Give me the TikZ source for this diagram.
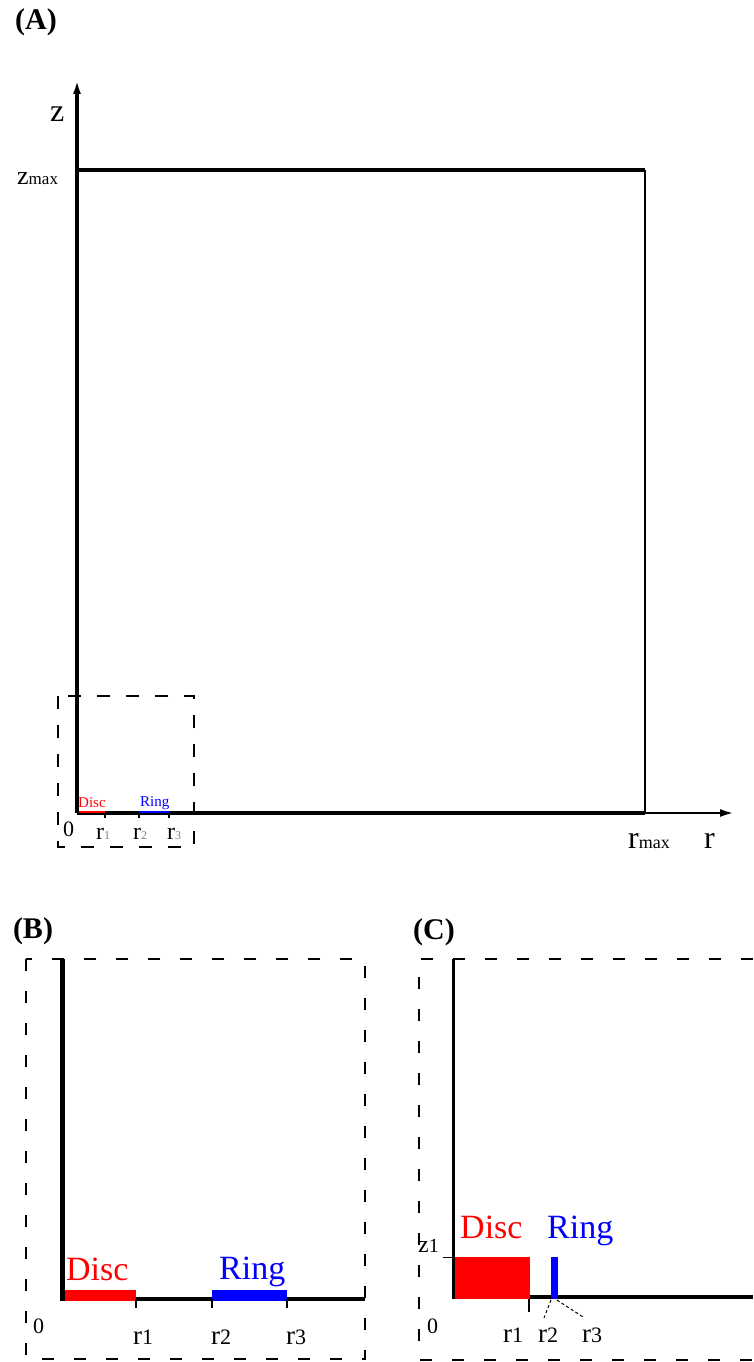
\documentclass[tikz,border=0pt]{standalone}
\usepackage{fontspec}
\setmainfont{Liberation Serif}
\usetikzlibrary{arrows.meta}

\newcommand{\fsz}[1]{\fontsize{#1}{#1}\selectfont}
\newcommand{\rsub}[1]{{\fsz{24}r}{\fsz{12}\color{gray}#1}}
\newcommand{\rnum}[1]{{\fsz{27}r}{\fsz{22}#1}}

\begin{document}
\begin{tikzpicture}[x=1pt, y=-1pt,
  thickaxis/.style={line width=4pt},
  thinaxis/.style={line width=2.5pt},
  dashbox/.style={line width=1.8pt, dash pattern=on 13pt off 16pt},
  tickmark/.style={line width=1.5pt},
  lead/.style={line width=1pt, dash pattern=on 3pt off 2.5pt},
  lbl/.style={inner sep=0pt, anchor=base west},
  panel/.style={inner sep=0pt, font=\fsz{30}\bfseries}]
\useasboundingbox (0,0) rectangle (753,1362);
% Panel A
\node[panel] (labA) at (36,22) {(A)};
\coordinate (oA) at (77,813);
\coordinate (ztopA) at (77,80);
\coordinate (rmaxA) at (645,813);
\coordinate (zmaxA) at (77,170);
\coordinate (cornerA) at (645,170);
\coordinate (rendA) at (734,813);
\draw[dashbox] (58,696) rectangle (194,847);
\draw[thinaxis, -{Latex[length=14pt,width=8pt]}] (rmaxA) -- (rendA);
\draw[thickaxis] (oA) -- (rmaxA);
\draw[thinaxis] (rmaxA) -- (cornerA);
\draw[thickaxis] (zmaxA) -- (cornerA);
\draw[red, line width=2.5pt] (77,812) -- (105,812);
\draw[blue, line width=2.5pt] (139,812) -- (169,812);
\foreach \x in {105,139,169}
  \draw[tickmark] (\x,813) -- (\x,818);
\draw[thickaxis, -{Latex[length=14pt,width=8pt]}] (oA) -- (ztopA);
\node[lbl, font=\fsz{32}] (zA) at (50,122) {z};
\node[lbl] (zmaxlbl) at (17,184) {{\fsz{26}z}{\fsz{17}max}};
\node[lbl, font=\fsz{22}] (zeroA) at (63,836) {0};
\node[lbl] (r1A) at (96,839) {\rsub{1}};
\node[lbl] (r2A) at (133,839) {\rsub{2}};
\node[lbl] (r3A) at (167,839) {\rsub{3}};
\node[lbl] (rmaxlbl) at (628,848) {{\fsz{32}r}{\fsz{18}max}};
\node[lbl, font=\fsz{32}] (rA) at (704,848) {r};
\node[lbl, red, font=\fsz{15}] (discA) at (78,807) {Disc};
\node[lbl, blue, font=\fsz{15}] (ringA) at (140,806) {Ring};
% Panel B
\node[panel] (labB) at (33,931) {(B)};
\draw[dashbox, dash pattern=on 12pt off 20pt] (26,959) rectangle (365,1359);
\draw[thickaxis] (60,1299) -- (365,1299);
\fill[red] (62,1290) rectangle (136,1301);
\fill[blue] (212,1290) rectangle (287,1301);
\foreach \x in {136,212,287}
  \draw[tickmark] (\x,1299) -- (\x,1308);
\draw[line width=5pt] (62.5,959) -- (62.5,1301);
\node[lbl, font=\fsz{22}] (zeroB) at (33,1333) {0};
\node[lbl] (r1B) at (133,1344) {\rnum{1}};
\node[lbl] (r2B) at (211,1344) {\rnum{2}};
\node[lbl] (r3B) at (286,1344) {\rnum{3}};
\node[lbl, red, font=\fsz{34}] (discB) at (66,1280) {Disc};
\node[lbl, blue, font=\fsz{34}] (ringB) at (219,1279) {Ring};
% Panel C
\node[panel] (labC) at (434,932) {(C)};
\draw[dashbox, dash pattern=on 12pt off 20pt] (753,959) -- (419,959) -- (419,1360) -- (753,1360);
\draw[thickaxis] (453,1296.5) -- (753,1296.5);
\fill[red] (455,1257) rectangle (530,1299);
\fill[blue] (551,1257) rectangle (558,1299);
\draw[line width=3.5pt] (453.5,959) -- (453.5,1299);
\draw[tickmark] (443,1257.5) -- (453,1257.5);
\draw[tickmark] (529,1299) -- (529,1312);
\coordinate (r2foot) at (551,1300);
\coordinate (r3foot) at (557,1300);
\coordinate (r2end) at (544,1318);
\coordinate (r3end) at (583,1317);
\draw[lead] (r2foot) -- (r2end);
\draw[lead] (r3foot) -- (r3end);
\node[lbl] (z1C) at (418,1252) {{\fsz{24}z}{\fsz{20}1}};
\node[lbl, font=\fsz{22}] (zeroC) at (427,1333) {0};
\node[lbl] (r1C) at (503,1342) {\rnum{1}};
\node[lbl] (r2C) at (538,1342) {\rnum{2}};
\node[lbl] (r3C) at (582,1342) {\rnum{3}};
\node[lbl, red, font=\fsz{34}] (discC) at (460,1238) {Disc};
\node[lbl, blue, font=\fsz{34}] (ringC) at (547,1238) {Ring};
\end{tikzpicture}
\end{document}
